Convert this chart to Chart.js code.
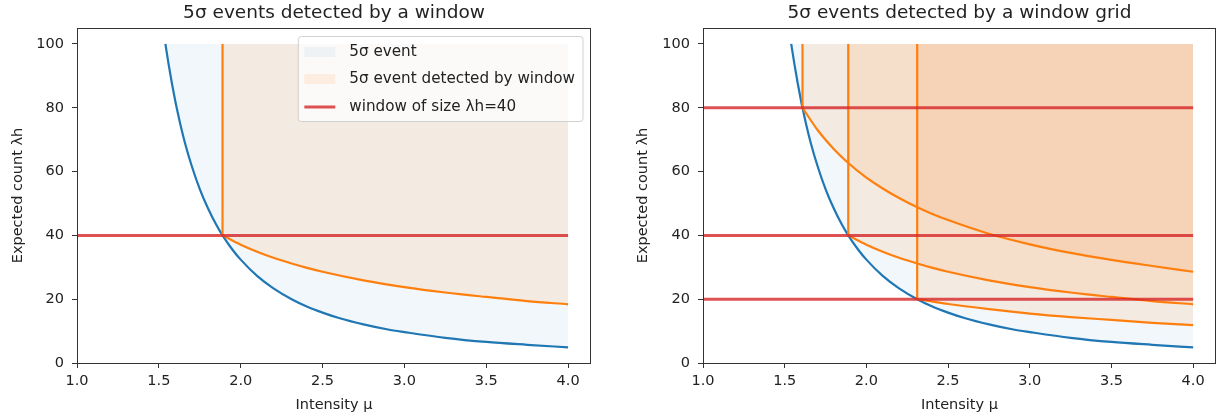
<!DOCTYPE html>
<html>
<head>
<meta charset="utf-8">
<script src="https://cdn.jsdelivr.net/npm/chart.js@4.4.1/dist/chart.umd.min.js"></script>
<style>
  body { margin: 0; background: #fff; }
  #wrap { position: relative; width: 1217px; height: 414px; }
  canvas { position: absolute; top: 0; }
  #left { left: 0; }
  #right { left: 608px; }
</style>
</head>
<body>
<div id="wrap">
  <canvas id="left" width="608" height="414"></canvas>
  <canvas id="right" width="609" height="414"></canvas>
</div>
<script>
// 5 sigma boundary (blue curve): intensity vs expected count
const sigmaMu    = [1.54, 1.56, 1.58, 1.60, 1.609, 1.63, 1.66, 1.70, 1.75, 1.80, 1.85, 1.889, 1.95, 2.00, 2.10, 2.20, 2.311, 2.40, 2.50, 2.60, 2.75, 2.90, 3.00, 3.25, 3.50, 3.75, 4.00];
const sigmaCount = [100.0, 93.5, 87.6, 82.2, 80.0, 75.1, 68.9, 61.9, 54.5, 48.5, 43.4, 40.0, 35.5, 32.4, 27.3, 23.4, 20.0, 17.8, 15.8, 14.1, 12.1, 10.5, 9.7, 7.9, 6.6, 5.7, 4.9];

// window sizes and the intensity where each window meets the 5 sigma curve
const windowSizes = [80, 40, 20];
const windowMu    = [1.609, 1.889, 2.311];

// detection boundary of each window (orange curves)
const detMu80    = [1.609, 1.70, 1.80, 1.889, 2.00, 2.10, 2.20, 2.311, 2.40, 2.50, 2.75, 3.00, 3.25, 3.50, 3.75, 4.00];
const detCount80 = [80.0, 73.1, 67.1, 62.7, 58.1, 54.7, 51.7, 48.8, 46.8, 44.8, 40.5, 37.2, 34.5, 32.3, 30.4, 28.6];
const detMu40    = [1.889, 2.00, 2.10, 2.20, 2.311, 2.40, 2.50, 2.75, 3.00, 3.25, 3.50, 3.75, 4.00];
const detCount40 = [40.0, 37.1, 34.9, 33.0, 31.2, 29.9, 28.6, 25.9, 23.8, 22.1, 20.7, 19.4, 18.4];
const detMu20    = [2.311, 2.40, 2.50, 2.75, 3.00, 3.25, 3.50, 3.75, 4.00];
const detCount20 = [20.0, 19.3, 18.5, 16.9, 15.5, 14.4, 13.5, 12.6, 11.9];

const xTicks = [1.0, 1.5, 2.0, 2.5, 3.0, 3.5, 4.0];
const yTicks = [0, 20, 40, 60, 80, 100];
const xRange = [1.0, 4.0];
const yTop = 100;

const BLUE = '#1f77b4';
const ORANGE = '#ff7f0e';
const RED = 'rgba(214,39,40,0.8)';
const BLUE_FILL = 'rgba(31,119,180,0.06)';
const ORANGE_FILL = 'rgba(255,127,14,0.105)';
const FONT = 'DejaVu Sans';

Chart.defaults.font.family = FONT;
Chart.defaults.color = '#222';

function pts(xs, ys) {
    return xs.map((x, i) => ({x: x, y: ys[i]}));
}

const detection = {
    80: pts(detMu80, detCount80),
    40: pts(detMu40, detCount40),
    20: pts(detMu20, detCount20)
};

function buildDatasets(sizes) {
    const reds = [], verticals = [], curves = [];
    sizes.forEach(w => {
        const mu = windowMu[windowSizes.indexOf(w)];
        reds.push({
            data: [{x: xRange[0], y: w}, {x: xRange[1], y: w}],
            borderColor: RED, borderWidth: 3, pointRadius: 0, fill: false
        });
        verticals.push({
            data: [{x: mu, y: w}, {x: mu, y: yTop}],
            borderColor: ORANGE, borderWidth: 2.2, pointRadius: 0, fill: false
        });
        curves.push({
            data: detection[w],
            borderColor: ORANGE, borderWidth: 2.2, pointRadius: 0,
            cubicInterpolationMode: 'monotone',
            fill: {value: yTop}, backgroundColor: ORANGE_FILL
        });
    });
    const blue = {
        data: pts(sigmaMu, sigmaCount),
        borderColor: BLUE, borderWidth: 2.2, pointRadius: 0,
        cubicInterpolationMode: 'monotone',
        fill: {value: yTop}, backgroundColor: BLUE_FILL
    };
    // first dataset is drawn on top
    return reds.concat(verticals, curves, [blue]);
}

// frame, title and legend inside the axes
const framePlugin = {
    id: 'frame',
    afterDraw(chart, args, opts) {
        const ctx = chart.ctx;
        const a = chart.chartArea;
        ctx.save();
        ctx.strokeStyle = '#333';
        ctx.lineWidth = 1;
        ctx.strokeRect(a.left + 0.5, a.top + 0.5, a.right - a.left - 1, a.bottom - a.top);

        ctx.fillStyle = '#222';
        ctx.font = '18.5px "' + FONT + '"';
        ctx.textAlign = 'center';
        ctx.textBaseline = 'middle';
        ctx.fillText(opts.title, (a.left + a.right) / 2, 13);

        if (opts.legend) {
            const items = opts.legend;
            ctx.font = '15.2px "' + FONT + '"';
            const textW = Math.max(...items.map(it => ctx.measureText(it.text).width));
            const boxW = 6 + 31 + 14 + textW + 8;
            const boxH = 85;
            const bx = a.right - 8 - boxW;
            const by = a.top + 8.5;
            ctx.fillStyle = 'rgba(255,255,255,0.8)';
            ctx.strokeStyle = 'rgba(204,204,204,0.9)';
            ctx.beginPath();
            ctx.roundRect(bx, by, boxW, boxH, 3);
            ctx.fill();
            ctx.stroke();
            const rows = [15.5, 42.5, 70.5];
            items.forEach((it, i) => {
                const cy = by + rows[i];
                if (it.type === 'patch') {
                    ctx.fillStyle = it.color;
                    ctx.fillRect(bx + 6, cy - 5, 31, 10);
                } else {
                    ctx.strokeStyle = it.color;
                    ctx.lineWidth = 3;
                    ctx.beginPath();
                    ctx.moveTo(bx + 6, cy);
                    ctx.lineTo(bx + 37, cy);
                    ctx.stroke();
                }
                ctx.fillStyle = '#222';
                ctx.textAlign = 'left';
                ctx.fillText(it.text, bx + 51, cy);
            });
        }
        ctx.restore();
    }
};

function makeScales(yWidth, yTitlePad) {
    const tickFont = {size: 14.5};
    return {
        x: {
            type: 'linear', min: 1.0, max: 4.14,
            afterBuildTicks: s => { s.ticks = xTicks.map(v => ({value: v})); },
            afterFit: s => { s.height = 51; },
            ticks: {callback: v => v.toFixed(1), padding: 5, font: tickFont, maxRotation: 0, autoSkip: false},
            grid: {drawOnChartArea: false, tickLength: 5, color: '#333'},
            border: {display: false},
            title: {display: true, text: 'Intensity μ', font: tickFont, padding: {top: 0, bottom: 0.5}}
        },
        y: {
            type: 'linear', min: 0, max: 105,
            afterBuildTicks: s => { s.ticks = yTicks.map(v => ({value: v})); },
            afterFit: s => { s.width = yWidth; },
            ticks: {padding: 8, font: tickFont, autoSkip: false},
            grid: {drawOnChartArea: false, tickLength: 5, color: '#333'},
            border: {display: false},
            title: {display: true, text: 'Expected count λh', font: tickFont, padding: {top: yTitlePad, bottom: 0}}
        }
    };
}

function makeChart(id, sizes, yWidth, yTitlePad, padRight, frameOpts) {
    return new Chart(document.getElementById(id), {
        type: 'line',
        data: {datasets: buildDatasets(sizes)},
        options: {
            responsive: false,
            animation: false,
            events: [],
            devicePixelRatio: 1,
            layout: {padding: {top: 28, right: padRight, bottom: 0, left: 0}},
            scales: makeScales(yWidth, yTitlePad),
            plugins: {
                legend: {display: false},
                tooltip: {enabled: false},
                filler: {drawTime: 'beforeDatasetsDraw'},
                frame: frameOpts
            }
        },
        plugins: [framePlugin]
    });
}

makeChart('left', [40], 77, 9.2, 17, {
    title: '5σ events detected by a window',
    legend: [
        {type: 'patch', color: BLUE_FILL, text: '5σ event'},
        {type: 'patch', color: ORANGE_FILL, text: '5σ event detected by window'},
        {type: 'line', color: RED, text: 'window of size λh=40'}
    ]
});

makeChart('right', windowSizes, 95, 26.6, 1, {
    title: '5σ events detected by a window grid'
});
</script>
</body>
</html>
